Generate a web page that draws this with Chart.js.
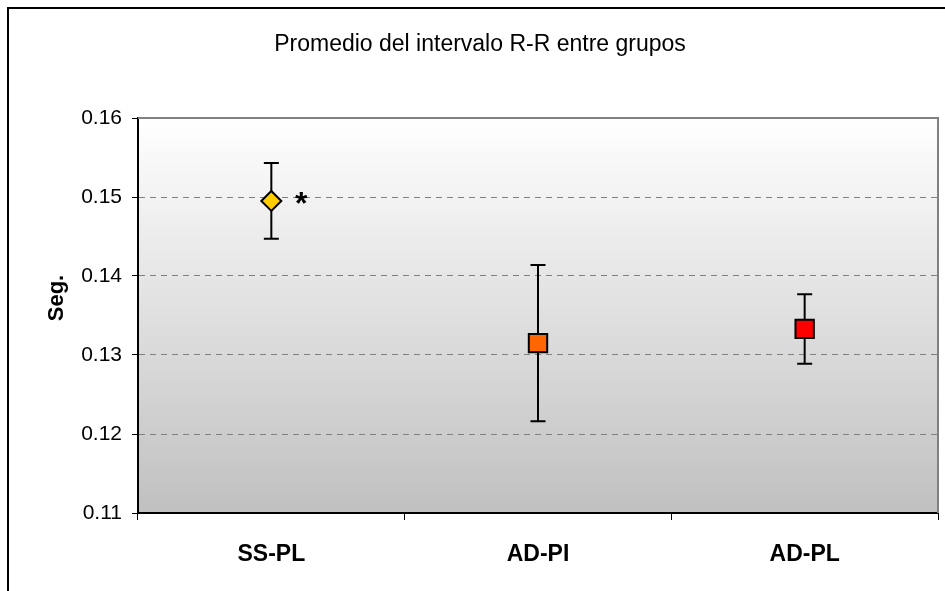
<!DOCTYPE html>
<html>
<head>
<meta charset="utf-8">
<script src="https://cdn.jsdelivr.net/npm/chart.js@4/dist/chart.umd.min.js"></script>
<style>
  html, body { margin: 0; padding: 0; background: #ffffff; overflow: hidden; }
  #wrap { width: 945px; height: 591px; position: relative; }
</style>
</head>
<body>
<div id="wrap"><canvas id="c"></canvas></div>
<script>
const categories = ['SS-PL', 'AD-PI', 'AD-PL'];
const means = [0.1495, 0.1315, 0.1333];
const errors = [0.0048, 0.0099, 0.0044];
const yTicks = [0.11, 0.12, 0.13, 0.14, 0.15, 0.16];
const titleText = 'Promedio del intervalo R-R entre grupos';
const yAxisTitle = 'Seg.';
const significance = ['*', '', ''];

const pointStyles = ['rectRot', 'rect', 'rect'];
const pointColors = ['#FFCC00', '#FF6600', '#FF0000'];
const pointRadii = [10, 13, 13];

const FONT = "'Liberation Sans', Arial, sans-serif";

const decorPlugin = {
  id: 'decor',
  beforeDraw(chart) {
    const { ctx, chartArea: a } = chart;
    ctx.save();
    ctx.strokeStyle = '#000';
    ctx.lineWidth = 2;
    ctx.beginPath();
    ctx.moveTo(8, 600);
    ctx.lineTo(8, 8);
    ctx.lineTo(960, 8);
    ctx.stroke();
    const g = ctx.createLinearGradient(0, a.top, 0, a.bottom);
    g.addColorStop(0, '#FFFFFF');
    g.addColorStop(1, '#C0C0C0');
    ctx.fillStyle = g;
    ctx.fillRect(a.left, a.top, a.right - a.left, a.bottom - a.top);
    ctx.fillStyle = '#000';
    ctx.font = "23px " + FONT;
    ctx.textAlign = 'center';
    ctx.textBaseline = 'middle';
    ctx.fillText(titleText, 480, 45);
    ctx.restore();
  },
  afterDraw(chart) {
    const { ctx } = chart;
    ctx.save();
    ctx.fillStyle = '#000';
    ctx.font = "bold 22px " + FONT;
    ctx.textAlign = 'center';
    ctx.textBaseline = 'middle';
    ctx.translate(57, 298);
    ctx.rotate(-Math.PI / 2);
    ctx.fillText(yAxisTitle, 0, 0);
    ctx.restore();
  },
  beforeDatasetsDraw(chart) {
    const { ctx, chartArea: a } = chart;
    ctx.save();
    ctx.strokeStyle = '#808080';
    ctx.lineWidth = 2;
    ctx.beginPath();
    ctx.moveTo(a.left, a.top);
    ctx.lineTo(a.right, a.top);
    ctx.lineTo(a.right, a.bottom);
    ctx.stroke();
    const xs = chart.scales.x, ys = chart.scales.y;
    ctx.strokeStyle = '#000';
    ctx.lineWidth = 2;
    means.forEach((m, i) => {
      const x = xs.getPixelForValue(i);
      const yt = ys.getPixelForValue(m + errors[i]);
      const yb = ys.getPixelForValue(m - errors[i]);
      ctx.beginPath();
      ctx.moveTo(x, yt); ctx.lineTo(x, yb);
      ctx.moveTo(x - 7.5, yt); ctx.lineTo(x + 7.5, yt);
      ctx.moveTo(x - 7.5, yb); ctx.lineTo(x + 7.5, yb);
      ctx.stroke();
    });
    ctx.restore();
  },
  afterDatasetsDraw(chart) {
    const { ctx } = chart;
    const xs = chart.scales.x, ys = chart.scales.y;
    ctx.save();
    ctx.fillStyle = '#000';
    ctx.font = "bold 32px " + FONT;
    ctx.textAlign = 'center';
    ctx.textBaseline = 'middle';
    significance.forEach((s, i) => {
      if (!s) return;
      const x = xs.getPixelForValue(i) + 30;
      const y = ys.getPixelForValue(means[i]) + 4;
      ctx.fillText(s, x, y);
    });
    ctx.restore();
  }
};

new Chart(document.getElementById('c'), {
  type: 'line',
  data: {
    labels: categories,
    datasets: [{
      data: means,
      showLine: false,
      pointStyle: pointStyles,
      pointRadius: pointRadii,
      pointHoverRadius: pointRadii,
      pointBackgroundColor: pointColors,
      pointBorderColor: '#000',
      pointBorderWidth: 2
    }]
  },
  options: {
    responsive: true,
    maintainAspectRatio: false,
    animation: false,
    events: [],
    layout: { autoPadding: false, padding: { left: 0, right: 7, top: 118, bottom: 0 } },
    plugins: {
      legend: { display: false },
      tooltip: { enabled: false },
      title: { display: false }
    },
    scales: {
      x: {
        type: 'category',
        offset: true,
        grid: { display: true, drawOnChartArea: false, offset: true, tickLength: 7, tickColor: '#000', color: '#000' },
        border: { display: true, color: '#000', width: 2 },
        ticks: { color: '#000', padding: 21, font: { family: FONT, size: 23, weight: 'bold' } },
        afterFit(s) { s.height = 78; }
      },
      y: {
        min: 0.11,
        max: 0.16,
        afterBuildTicks(s) { s.ticks = yTicks.map(v => ({ value: v })); },
        grid: {
          color: (c) => (c.tick && (Math.abs(c.tick.value - 0.16) < 1e-9 || Math.abs(c.tick.value - 0.11) < 1e-9)) ? 'rgba(0,0,0,0)' : '#808080',
          tickColor: '#000',
          tickLength: 6,
          tickBorderDash: [],
          lineWidth: 1
        },
        border: { display: true, color: '#000', width: 2, dash: [6, 5] },
        ticks: {
          color: '#000',
          padding: 10,
          font: { family: FONT, size: 21 },
          callback: (v) => Number(v).toFixed(2)
        },
        afterFit(s) { s.width = 138; }
      }
    }
  },
  plugins: [decorPlugin]
});
</script>
</body>
</html>
